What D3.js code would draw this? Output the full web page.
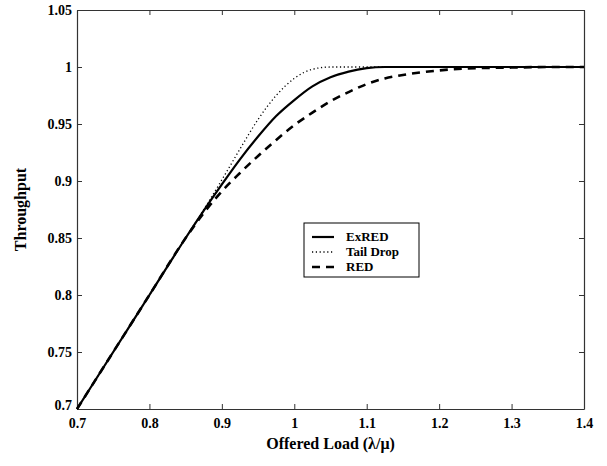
<!DOCTYPE html>
<html>
<head>
<meta charset="utf-8">
<script src="https://cdn.jsdelivr.net/npm/d3@7"></script>
<style>
  body { margin: 0; background: #fff; }
  svg text { font-family: 'Liberation Serif', 'Times New Roman', Times, serif !important; font-weight: bold; fill: #000; }
</style>
</head>
<body>
<svg id="chart" width="607" height="466"></svg>
<script>
// offered load values (x)
var load = [0.70, 0.75, 0.80, 0.85, 0.875, 0.90, 0.925, 0.95, 0.975, 1.00, 1.025, 1.05, 1.075, 1.10, 1.125, 1.15, 1.20, 1.25, 1.30, 1.35, 1.40];
// throughput per scheme
var exred    = [0.70, 0.75, 0.80, 0.85, 0.874, 0.897, 0.919, 0.939, 0.957, 0.971, 0.983, 0.991, 0.996, 0.999, 1.000, 1.000, 1.000, 1.000, 1.000, 1.000, 1.000];
var tailDrop = [0.70, 0.75, 0.80, 0.85, 0.875, 0.901, 0.928, 0.954, 0.975, 0.990, 0.998, 1.000, 1.000, 1.000, 1.000, 1.000, 1.000, 1.000, 1.000, 1.000, 1.000];
var red      = [0.70, 0.75, 0.80, 0.85, 0.872, 0.891, 0.907, 0.922, 0.936, 0.949, 0.960, 0.970, 0.978, 0.985, 0.990, 0.993, 0.997, 0.999, 0.9995, 1.000, 1.000];

var xTicks = [0.7, 0.8, 0.9, 1.0, 1.1, 1.2, 1.3, 1.4];
var yTicks = [0.7, 0.75, 0.8, 0.85, 0.9, 0.95, 1.0, 1.05];

var series = [
  { name: "ExRED", values: exred, width: 2.2, dash: null },
  { name: "Tail Drop", values: tailDrop, width: 1.3, dash: "1.2,2.6" },
  { name: "RED", values: red, width: 2.6, dash: "8,6" }
];

var margin = { left: 77, top: 10, right: 23, bottom: 57 };
var W = 607, H = 466;
var pw = W - margin.left - margin.right, ph = H - margin.top - margin.bottom;

var svg = d3.select("#chart");
var g = svg.append("g").attr("transform", "translate(" + margin.left + "," + margin.top + ")");

var x = d3.scaleLinear().domain([0.7, 1.4]).range([0, pw]);
var y = d3.scaleLinear().domain([0.7, 1.05]).range([ph, 0]);

function fmt(d) { return String(+d.toFixed(2)); }

// axes with inward ticks
var xAxis = g.append("g").attr("transform", "translate(0," + ph + ")")
  .call(d3.axisBottom(x).tickValues(xTicks).tickSizeInner(-5).tickSizeOuter(0).tickPadding(9).tickFormat(fmt));
var yAxis = g.append("g")
  .call(d3.axisLeft(y).tickValues(yTicks).tickSizeInner(-5).tickSizeOuter(0).tickPadding(5).tickFormat(fmt));
var xTop = g.append("g")
  .call(d3.axisTop(x).tickValues(xTicks).tickSizeInner(-5).tickSizeOuter(0).tickFormat(""));
var yRight = g.append("g").attr("transform", "translate(" + pw + ",0)")
  .call(d3.axisRight(y).tickValues(yTicks).tickSizeInner(-5).tickSizeOuter(0).tickFormat(""));

[xAxis, yAxis, xTop, yRight].forEach(function(a) {
  a.attr("font-family", null);
  a.select(".domain").attr("stroke", "#333").attr("stroke-width", 1.2);
  a.selectAll(".tick line").attr("stroke", "#333");
  a.selectAll("text").attr("font-size", 14);
});
// bottom-left y label sits slightly up like the original
yAxis.selectAll(".tick text").filter(function(d) { return d === 0.7; }).attr("dy", "0.05em");

// lines
var line = d3.line()
  .x(function(d) { return x(d[0]); })
  .y(function(d) { return y(d[1]); })
  .curve(d3.curveMonotoneX);

series.forEach(function(s) {
  var pts = load.map(function(v, i) { return [v, s.values[i]]; });
  g.append("path")
    .datum(pts)
    .attr("fill", "none")
    .attr("stroke", "#000")
    .attr("stroke-width", s.width)
    .attr("stroke-dasharray", s.dash)
    .attr("d", line);
});

// legend
var lg = svg.append("g").attr("transform", "translate(304,223)");
lg.append("rect").attr("width", 115).attr("height", 54)
  .attr("fill", "#fff").attr("stroke", "#000").attr("stroke-width", 1);
series.forEach(function(s, i) {
  var yy = 14 + i * 15;
  lg.append("line").attr("x1", 8).attr("x2", 30).attr("y1", yy).attr("y2", yy)
    .attr("stroke", "#000").attr("stroke-width", s.width)
    .attr("stroke-dasharray", s.dash);
  lg.append("text").attr("x", 42).attr("y", yy + 4).attr("font-size", 13).text(s.name);
});

// axis titles
svg.append("text")
  .attr("x", margin.left + pw / 2).attr("y", 449)
  .attr("text-anchor", "middle").attr("font-size", 16)
  .text("Offered Load (\u03bb/\u03bc)");
svg.append("text")
  .attr("transform", "translate(26," + (margin.top + ph / 2) + ") rotate(-90)")
  .attr("text-anchor", "middle").attr("font-size", 16)
  .text("Throughput");
</script>
</body>
</html>
